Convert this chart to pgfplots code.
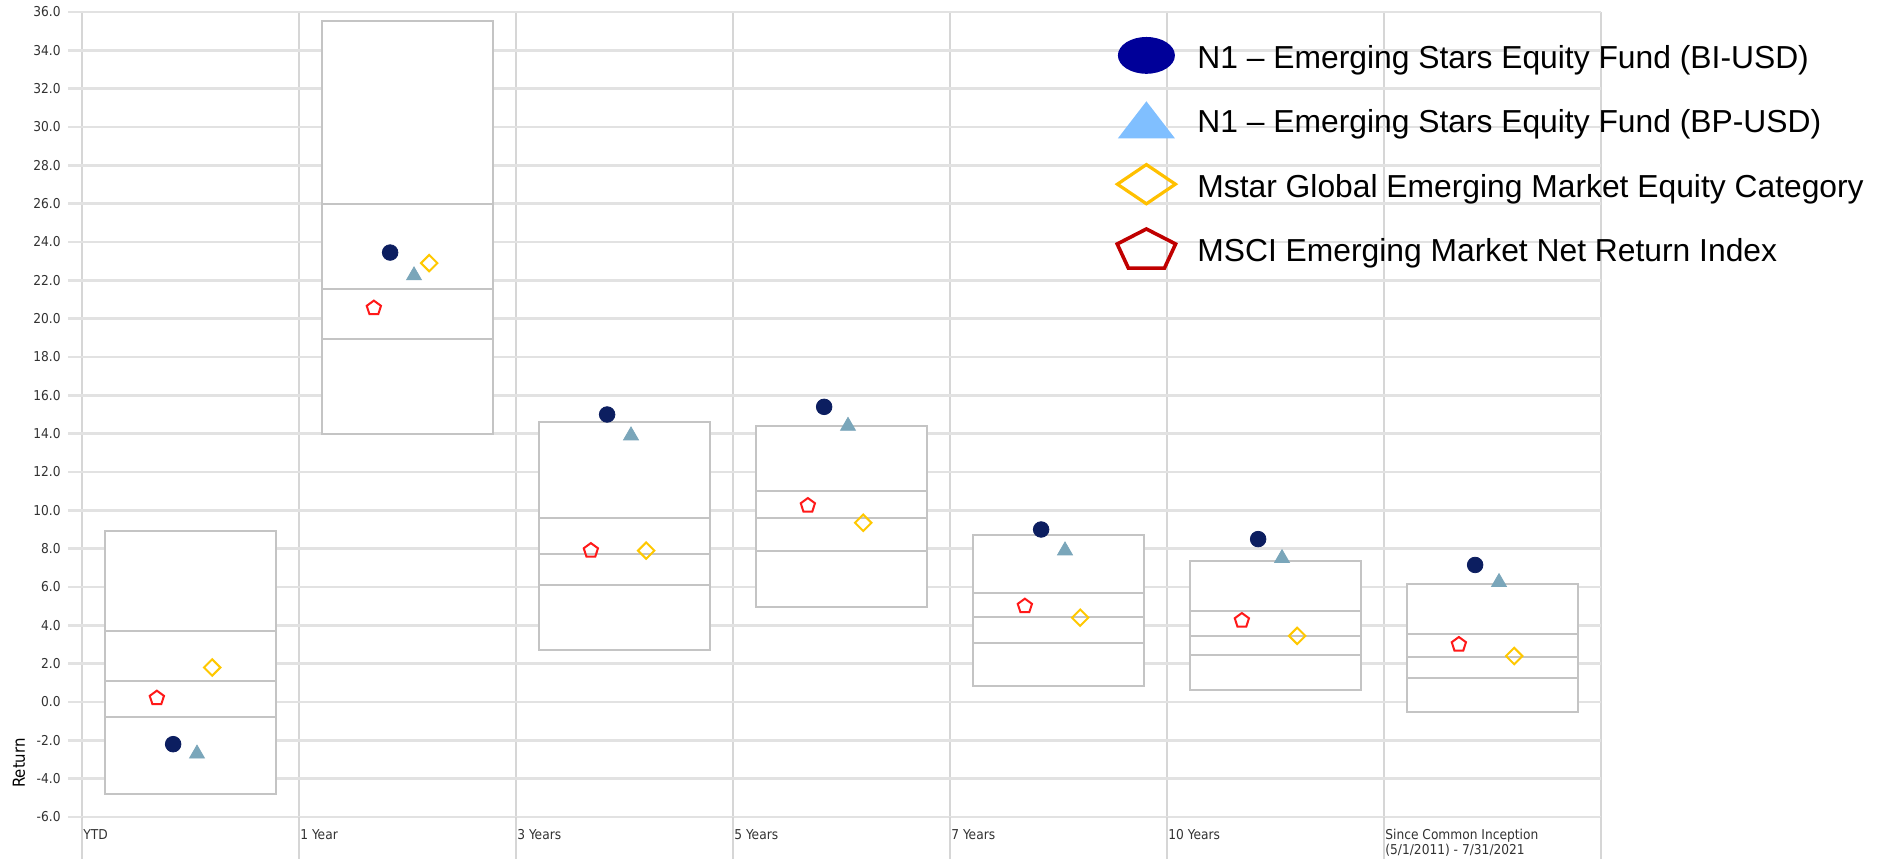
\documentclass[border=0pt]{standalone}
\usepackage{pgfplots}
\pgfplotsset{compat=1.18}
\usepackage{pgfplotstable}
\usepgfplotslibrary{statistics}
\usepackage{fontspec}
\setmainfont{Liberation Sans}
\newfontfamily\tickfont{DejaVu Sans Condensed}

\definecolor{hgrid}{RGB}{226,226,226}
\definecolor{vgrid}{RGB}{214,214,214}
\definecolor{boxc}{RGB}{196,196,196}
\definecolor{labc}{RGB}{50,50,50}
\definecolor{bicol}{RGB}{12,30,96}
\definecolor{bpcol}{RGB}{122,166,186}
\definecolor{catcol}{RGB}{255,200,0}
\definecolor{idxcol}{RGB}{255,25,25}
\definecolor{legbi}{RGB}{0,0,153}
\definecolor{legbp}{RGB}{128,191,255}
\definecolor{legcat}{RGB}{255,192,0}
\definecolor{legidx}{RGB}{192,0,0}

% returns of the fund classes, the category and the index
\pgfplotstableread{
pos  bi     bp     cat    idx
0   -2.2   -2.7    1.8    0.2
1   23.45  22.25  22.9   20.55
2   15.0   13.9    7.9    7.9
3   15.4   14.4    9.35  10.25
4    9.0    7.9    4.4    5.0
5    8.5    7.5    3.45   4.25
6    7.15   6.25   2.4    3.0
}\ret

% peer group box: position, 5th, 25th, 50th, 75th, 95th percentile
\newcommand{\pctbox}[6]{%
  \addplot[boxbase, boxplot prepared={draw position=#1,
      lower whisker=#2, lower quartile=#2, median=#3, upper quartile=#4, upper whisker=#4}]
    coordinates {};
  \addplot[boxbase, boxplot prepared={draw position=#1,
      lower whisker=#4, lower quartile=#4, median=#5, upper quartile=#6, upper whisker=#6}]
    coordinates {};
}

\begin{document}
\begin{tikzpicture}
\begin{axis}[
  at={(0,0)}, anchor=south west,
  scale only axis, width=759.5pt, height=402.5pt,
  xmin=-0.5, xmax=6.5, ymin=-6, ymax=36,
  axis line style={draw=none},
  xtick pos=bottom, ytick pos=left,
  xtick={-0.5,0.5,...,6.5},
  xticklabels={\strut YTD,\strut 1 Year,\strut 3 Years,\strut 5 Years,\strut 7 Years,\strut 10 Years,{\strut Since Common Inception\\(5/1/2011) - 7/31/2021},{}},
  ytick={-6,-4,...,36},
  yticklabels={-6.0,-4.0,-2.0,0.0,2.0,4.0,6.0,8.0,10.0,12.0,14.0,16.0,18.0,20.0,22.0,24.0,26.0,28.0,30.0,32.0,34.0,36.0},
  major tick length=0pt,
  xmajorgrids, ymajorgrids,
  x grid style={draw=vgrid, line width=1pt},
  y grid style={draw=hgrid, line width=1.3pt},
  x tick style={draw=vgrid, line width=1pt},
  y tick style={draw=hgrid, line width=1.3pt},
  extra x ticks={-0.5,0.5,...,6.5}, extra x tick labels={},
  extra x tick style={grid=none, tick align=outside, major tick length=26pt},
  extra y ticks={-6,-4,...,36}, extra y tick labels={},
  extra y tick style={grid=none, tick align=outside, major tick length=7pt},
  xticklabel style={anchor=north west, align=left, inner sep=0pt, xshift=0.5pt, yshift=-5.6pt,
    font=\tickfont\fontsize{6.8}{7.5}\selectfont, text=labc},
  yticklabel style={anchor=east, inner sep=0pt, xshift=-10.5pt,
    font=\tickfont\fontsize{6.8}{8}\selectfont, text=labc},
  ylabel={Return},
  ylabel style={at={(axis description cs:-0.0415,0.067)}, anchor=center,
    font=\tickfont\fontsize{8.3}{9}\selectfont, text=black},
  legend style={at={(axis description cs:0.6794,0.9866)}, anchor=north west,
    draw=none, fill=none, inner sep=0pt, column sep=0pt, row sep=0pt,
    font=\fontsize{15.9}{19}\selectfont, text=black,
    nodes={inner xsep=0pt, inner ysep=1pt, yshift=-1.5pt}},
  legend cell align=left,
  boxbase/.style={draw=boxc, fill=white, line width=1pt, forget plot,
    /pgfplots/boxplot/draw direction=y, /pgfplots/boxplot/box extend=0.79},
]

\pctbox{0}{-4.8}{-0.8}{1.1}{3.7}{8.9}
\pctbox{1}{14.0}{18.95}{21.55}{26.0}{35.55}
\pctbox{2}{2.7}{6.1}{7.7}{9.6}{14.6}
\pctbox{3}{4.95}{7.9}{9.6}{11.0}{14.4}
\pctbox{4}{0.85}{3.1}{4.45}{5.7}{8.7}
\pctbox{5}{0.65}{2.45}{3.45}{4.75}{7.35}
\pctbox{6}{-0.5}{1.25}{2.35}{3.55}{6.15}

\addplot[only marks, forget plot, mark=pentagon, mark size=3.75pt,
  mark options={draw=idxcol, fill=white, line width=1pt}]
  table[x expr=\thisrow{pos}-0.155, y=idx] {\ret};
\addplot[only marks, forget plot, mark=*, mark size=3.9pt,
  mark options={draw=bicol, fill=bicol}]
  table[x expr=\thisrow{pos}-0.08, y=bi] {\ret};
\addplot[only marks, forget plot, mark=triangle*, mark size=4.3pt,
  mark options={draw=bpcol, fill=bpcol}]
  table[x expr=\thisrow{pos}+0.03, y=bp] {\ret};
\addplot[only marks, forget plot, mark=square, mark size=2.9pt,
  mark options={draw=catcol, fill=white, line width=1pt, rotate=45}]
  table[x expr=\thisrow{pos}+0.10, y=cat] {\ret};

\addlegendimage{legend image code/.code={
  \path[draw=none, fill=none] (-16pt,-16.1pt) rectangle (25.5pt,16.1pt);
  \path[fill=legbi, draw=none] (0pt,0pt) ellipse [x radius=14.25pt, y radius=9.2pt];}}
\addlegendentry{N1 – Emerging Stars Equity Fund (BI-USD)}
\addlegendimage{legend image code/.code={
  \path[draw=none, fill=none] (-16pt,-16.1pt) rectangle (25.5pt,16.1pt);
  \path[fill=legbp, draw=none] (-14.25pt,-9.25pt) -- (14.25pt,-9.25pt) -- (0pt,9.25pt) -- cycle;}}
\addlegendentry{N1 – Emerging Stars Equity Fund (BP-USD)}
\addlegendimage{legend image code/.code={
  \path[draw=none, fill=none] (-16pt,-16.1pt) rectangle (25.5pt,16.1pt);
  \path[draw=legcat, fill=none, line width=1.6pt, line join=miter] (-14.5pt,0pt) -- (0pt,9.8pt) -- (14.5pt,0pt) -- (0pt,-9.8pt) -- cycle;}}
\addlegendentry{Mstar Global Emerging Market Equity Category}
\addlegendimage{legend image code/.code={
  \path[draw=none, fill=none] (-16pt,-16.1pt) rectangle (25.5pt,16.1pt);
  \path[draw=legidx, fill=none, line width=1.8pt, line join=miter] (0pt,9.8pt) -- (14.6pt,2.3pt) -- (9pt,-9.8pt) -- (-9pt,-9.8pt) -- (-14.6pt,2.3pt) -- cycle;}}
\addlegendentry{MSCI Emerging Market Net Return Index}
\end{axis}
\pgfresetboundingbox
\path[use as bounding box] (-41pt,-20.5pt) rectangle (898pt,408.5pt);
\end{tikzpicture}
\end{document}
